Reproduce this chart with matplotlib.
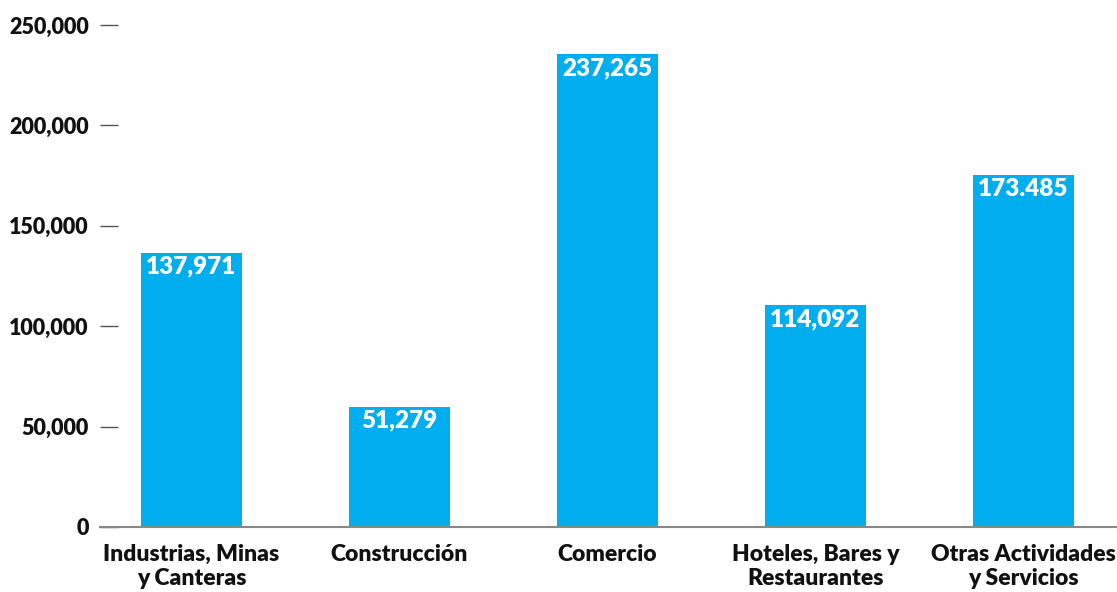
import matplotlib.pyplot as plt
from matplotlib.ticker import FuncFormatter

# datos
categorias = ["Industrias, Minas\ny Canteras", "Construcción", "Comercio",
              "Hoteles, Bares y\nRestaurantes", "Otras Actividades\ny Servicios"]
alturas = [136500, 60000, 235500, 110500, 175300]
etiquetas = ["137,971", "51,279", "237,265", "114,092", "173.485"]
yticks = [0, 50000, 100000, 150000, 200000, 250000]

azul = "#00AEEF"
peso = "heavy"

plt.rcParams['font.family'] = ['Lato', 'DejaVu Sans']

fig = plt.figure(figsize=(11.17, 5.92), dpi=100)
ax = fig.add_axes([0.0895, 0.1098, 0.9105, 0.848])

x = range(len(categorias))
bars = ax.bar(x, alturas, width=0.485, color=azul, zorder=2)

for b, txt in zip(bars, etiquetas):
    ax.annotate(txt, (b.get_x() + b.get_width() / 2, b.get_height()),
                xytext=(0, -2), textcoords="offset points",
                ha="center", va="top", color="white",
                fontsize=17.5, fontweight=peso)

ax.set_xlim(-0.44, 4.45)
ax.set_ylim(0, 250000)
ax.set_yticks(yticks)
ax.yaxis.set_major_formatter(FuncFormatter(lambda v, p: f"{int(v):,}"))
ax.set_xticks(list(x))
ax.set_xticklabels(categorias, fontsize=16.5, fontweight=peso, color="#111111",
                   linespacing=1.2)

for s in ["top", "right", "left"]:
    ax.spines[s].set_visible(False)
ax.spines["bottom"].set_color("#888888")
ax.spines["bottom"].set_linewidth(1.5)

ax.tick_params(axis="y", direction="in", length=13, width=1, color="#555555",
               pad=8, labelsize=15.5, labelcolor="#111111")
ax.tick_params(axis="x", length=0, pad=12)
for lbl in ax.get_yticklabels():
    lbl.set_fontweight(peso)

fig.savefig("out.png", dpi=100)
